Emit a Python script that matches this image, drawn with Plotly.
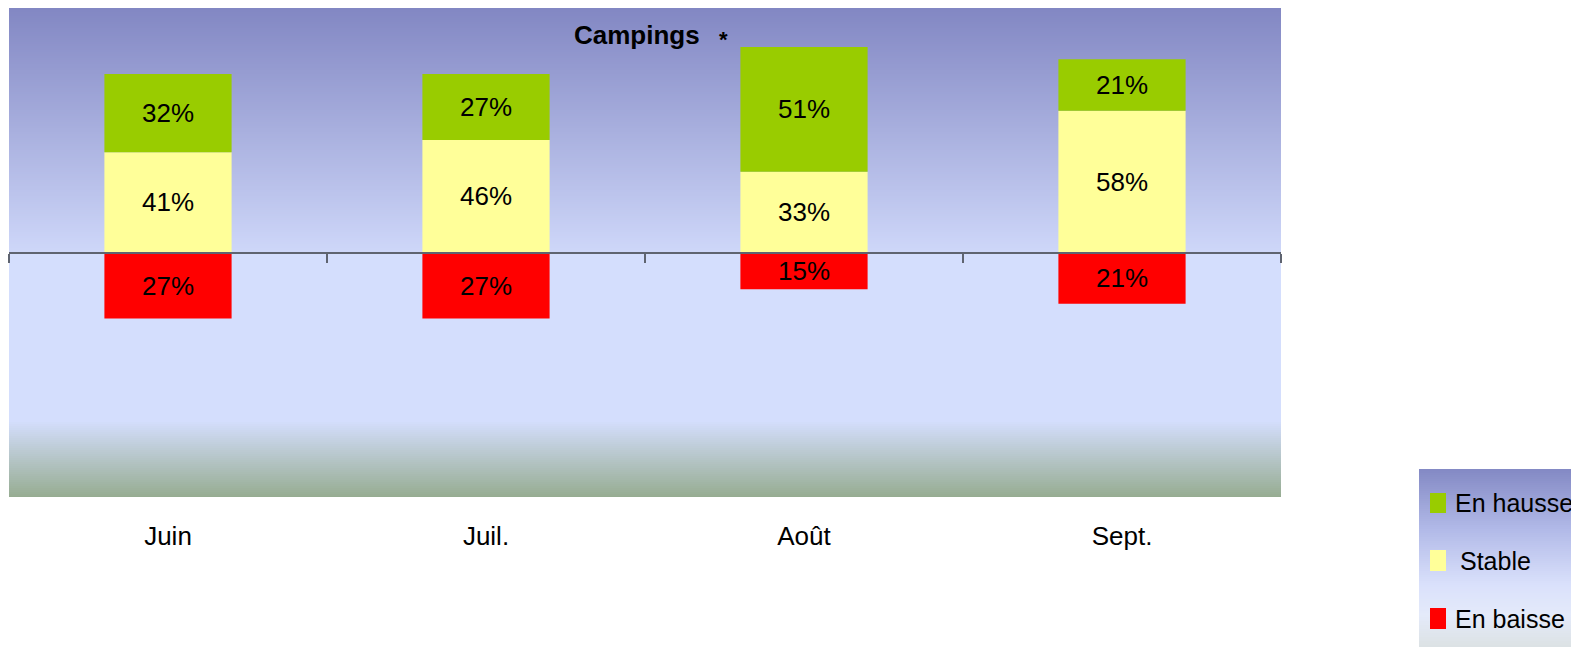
import plotly.graph_objects as go

categories = ["Juin", "Juil.", "Août", "Sept."]
en_hausse = [32, 27, 51, 21]
stable = [41, 46, 33, 58]
en_baisse = [27, 27, 15, 21]
series_names = ["En hausse", "Stable", "En baisse"]
series_colors = ["#99CC00", "#FFFF99", "#FF0000"]
title_text = "Campings"

# the page body has an 8px margin; all pixel positions below are page pixels
OFF = 8
PAGE_W, PAGE_H = 1579, 647
FIG_W, FIG_H = PAGE_W - OFF, PAGE_H - OFF
L, R, T, B = 9, 1281, 8, 497
PW, PH = R - L, B - T
FONT = "Liberation Sans, Arial, sans-serif"


def fx(px):
    return (px - L) / PW


def fy(py):
    return (B - py) / PH


def grad(stops, p):
    for (p0, c0), (p1, c1) in zip(stops, stops[1:]):
        if p0 <= p <= p1:
            t = (p - p0) / (p1 - p0) if p1 > p0 else 0
            c = [round(a + (b - a) * t) for a, b in zip(c0, c1)]
            return "rgb(%d,%d,%d)" % tuple(c)
    c = stops[-1][1] if p > stops[-1][0] else stops[0][1]
    return "rgb(%d,%d,%d)" % tuple(c)


shapes = []
# plot area background gradient
plot_stops = [(T, (130, 135, 195)), (252, (206, 215, 249)), (253, (212, 222, 253)),
              (421, (212, 222, 253)), (B, (150, 172, 145))]
step = 2
py = T
while py < B:
    shapes.append(dict(type="rect", xref="paper", yref="paper", x0=0, x1=1,
                       y0=fy(min(py + step, B)), y1=fy(py), fillcolor=grad(plot_stops, py + step / 2),
                       line=dict(width=0), layer="below"))
    py += step

# legend background gradient
LG_L, LG_T, LG_B = 1419, 469, PAGE_H
leg_stops = [(LG_T, (131, 137, 196)), (530, (178, 186, 232)), (585, (218, 225, 251)),
             (615, (228, 234, 250)), (LG_B, (220, 226, 228))]
py = LG_T
while py < LG_B:
    shapes.append(dict(type="rect", xref="paper", yref="paper", x0=fx(LG_L), x1=fx(PAGE_W + 5),
                       y0=fy(min(py + step, LG_B)), y1=fy(py), fillcolor=grad(leg_stops, py + step / 2),
                       line=dict(width=0), layer="below"))
    py += step

# legend markers and labels
legend_items = [(series_names[0], series_colors[0], 493, 513, 1453),
                (series_names[1], series_colors[1], 550, 571, 1458),
                (series_names[2], series_colors[2], 608, 629, 1453)]
annotations = []
for name, col, y0, y1, tx in legend_items:
    shapes.append(dict(type="rect", xref="paper", yref="paper", x0=fx(1430), x1=fx(1446),
                       y0=fy(y1), y1=fy(y0), fillcolor=col, line=dict(width=0), layer="above"))
    annotations.append(dict(text=name, xref="paper", yref="paper", x=fx(tx), y=fy((y0 + y1) / 2),
                            xanchor="left", yanchor="middle", showarrow=False,
                            font=dict(size=25, color="black", family=FONT)))

annotations.append(dict(text="<b>%s</b>" % title_text, xref="paper", yref="paper", x=fx(637), y=fy(35),
                        xanchor="center", yanchor="middle", showarrow=False,
                        font=dict(size=26, color="black", family=FONT)))
annotations.append(dict(text="<b>*</b>", xref="paper", yref="paper", x=fx(723), y=fy(40),
                        xanchor="center", yanchor="middle", showarrow=False,
                        font=dict(size=22, color="black", family=FONT)))

fig = go.Figure()
fig.add_trace(go.Bar(x=categories, y=stable, name=series_names[1], marker_color=series_colors[1],
                     text=[f"{v}%" for v in stable]))
fig.add_trace(go.Bar(x=categories, y=en_hausse, name=series_names[0], marker_color=series_colors[0],
                     text=[f"{v}%" for v in en_hausse]))
fig.add_trace(go.Bar(x=categories, y=[-v for v in en_baisse], name=series_names[2],
                     marker_color=series_colors[2], text=[f"{v}%" for v in en_baisse]))
fig.update_traces(textposition="inside", insidetextanchor="middle", textangle=0,
                  constraintext="none", marker_line_width=0, hoverinfo="skip",
                  textfont=dict(size=26, color="black", family=FONT))
fig.add_trace(go.Scatter(x=[None], y=[None], xaxis="x2", yaxis="y", showlegend=False,
                         hoverinfo="skip", mode="lines"))

fig.update_layout(
    width=FIG_W, height=FIG_H,
    margin=dict(l=L - OFF, r=PAGE_W - R, t=T - OFF, b=PAGE_H - B, pad=0),
    paper_bgcolor="white", plot_bgcolor="rgba(0,0,0,0)",
    barmode="relative", bargap=0.6, showlegend=False,
    font=dict(family=FONT, size=26, color="black"),
    xaxis=dict(type="category", range=[-0.5, 3.5], showgrid=False, zeroline=False, showline=False,
               ticks="", tickfont=dict(size=26, color="black", family=FONT), ticklabelstandoff=21),
    xaxis2=dict(type="linear", overlaying="x", anchor="free", position=0.5, side="bottom",
                range=[-0.5, 3.5], tickvals=[-0.5, 0.5, 1.5, 2.5, 3.5], ticks="outside",
                ticklen=9, tickwidth=2, tickcolor="#5F6470", showline=True, linecolor="#5F6470",
                linewidth=2, showticklabels=False, showgrid=False, zeroline=False),
    yaxis=dict(range=[-100, 100], visible=False, showgrid=False, zeroline=False),
    shapes=shapes, annotations=annotations,
)

fig.write_html("out.html")
